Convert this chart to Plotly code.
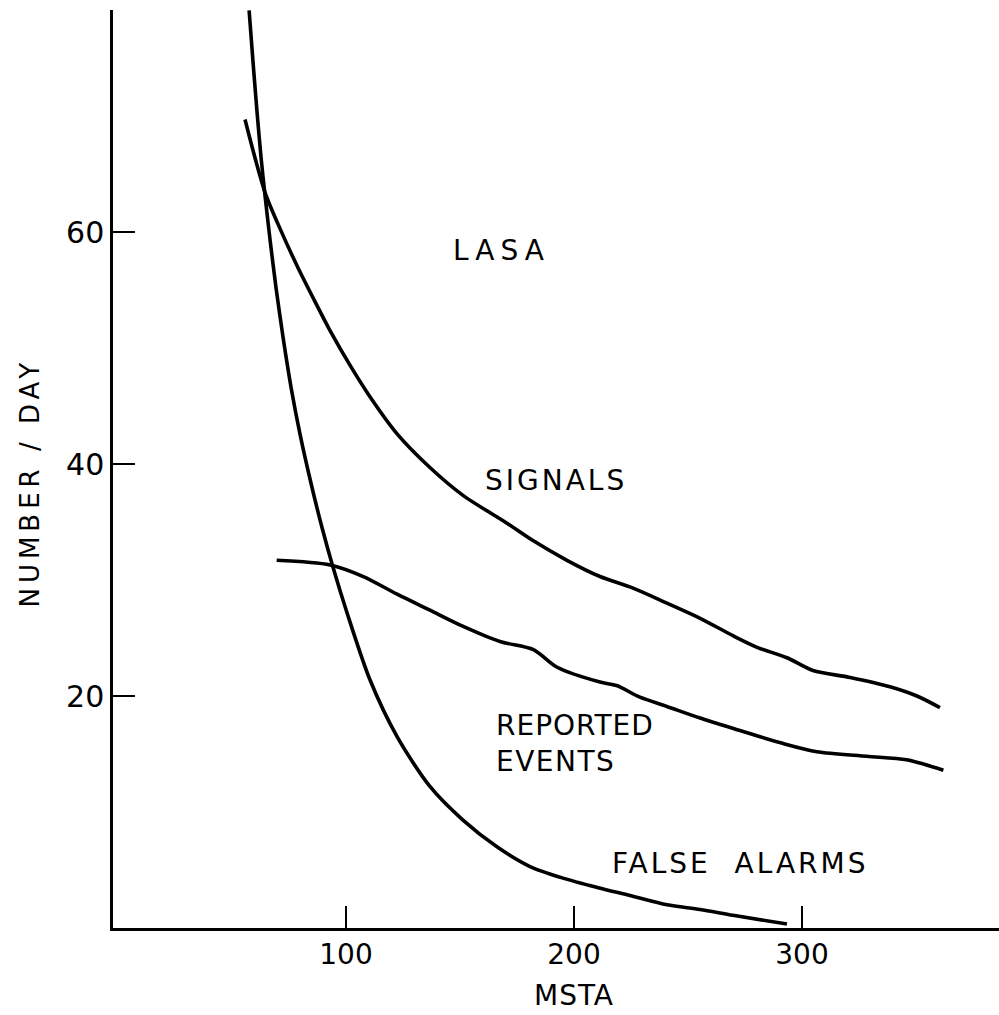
import plotly.graph_objects as go

# MSTA threshold vs. number per day for the LASA detector
signals_x = [55.7, 64.5, 71.5, 79.0, 86.4, 93.0, 101.8, 110.5, 122.4, 136.8, 151.3,
             170.6, 182.0, 196.9, 211.4, 225.9, 240.8, 255.3, 269.7, 280.3, 293.4,
             304.8, 321.1, 338.6, 350.4, 360.5]
signals_y = [69.7, 63.4, 60.1, 56.9, 54.0, 51.5, 48.5, 45.8, 42.6, 39.7, 37.3,
             34.9, 33.4, 31.7, 30.3, 29.3, 28.0, 26.7, 25.2, 24.2, 23.3,
             22.2, 21.6, 20.8, 20.0, 19.0]

reported_x = [69.6, 93.0, 107.6, 122.2, 136.8, 151.4, 167.5, 182.2, 192.4, 211.4,
              218.7, 228.9, 240.7, 255.3, 269.9, 291.8, 306.5, 328.4, 345.9, 362.0]
reported_y = [31.7, 31.3, 30.3, 28.8, 27.4, 26.0, 24.7, 24.0, 22.5, 21.2,
              20.9, 19.9, 19.1, 18.1, 17.2, 15.9, 15.2, 14.8, 14.5, 13.6]

false_x = [57.5, 59.2, 61.0, 62.7, 64.5, 66.7, 69.3, 72.4, 75.9, 79.8, 84.7,
           89.5, 94.3, 100.4, 110.5, 122.4, 136.8, 151.3, 166.2, 180.7, 195.2,
           210.1, 224.6, 240.8, 255.3, 269.7, 293.4]
false_y = [79.1, 74.7, 70.3, 66.5, 63.1, 59.3, 55.2, 50.9, 46.6, 42.6, 38.3,
           34.5, 31.1, 27.2, 21.4, 16.5, 12.2, 9.3, 7.0, 5.3, 4.3,
           3.5, 2.8, 2.0, 1.6, 1.1, 0.34]

x_ticks = [100, 200, 300]
y_ticks = [20, 40, 60]

FONT = "DejaVu Sans"
INK = "black"

fig = go.Figure()
for xs, ys in [(signals_x, signals_y), (reported_x, reported_y), (false_x, false_y)]:
    fig.add_trace(go.Scatter(
        x=xs, y=ys, mode="lines",
        line=dict(color=INK, width=3.6, shape="spline", smoothing=0.8),
        showlegend=False, hoverinfo="skip",
    ))


def spaced(text, px):
    return f'<span style="letter-spacing:{px}px">{text}</span>'


labels = [
    (168.4, 58.4, spaced("LASA", 6), "center"),
    (192.1, 38.6, spaced("SIGNALS", 3), "center"),
    (164.9, 15.9, spaced("REPORTED", 1) + "<br>" + spaced("EVENTS", 1.5), "left"),
    (273.2, 5.6, spaced("FALSE&nbsp;&nbsp;ALARMS", 3), "center"),
]
for x, y, t, al in labels:
    fig.add_annotation(
        x=x, y=y, text=t, showarrow=False,
        xanchor="left" if al == "left" else "center", yanchor="middle",
        align=al, font=dict(family=FONT, size=28, color=INK),
    )

# axis titles
fig.add_annotation(
    x=200, xref="x", y=0, yref="paper", yshift=-67,
    text=spaced("MSTA", 1), showarrow=False, xanchor="center", yanchor="middle",
    font=dict(family=FONT, size=28, color=INK),
)
fig.add_annotation(
    x=0, xref="paper", xshift=-83, y=38.4, yref="y",
    text=spaced("NUMBER / DAY", 5), textangle=-90, showarrow=False,
    xanchor="center", yanchor="middle",
    font=dict(family=FONT, size=26, color=INK),
)

fig.update_layout(
    width=999, height=1015,
    margin=dict(l=113, r=0, t=10, b=87),
    paper_bgcolor="white", plot_bgcolor="white",
    xaxis=dict(
        range=[-2.2, 386.4], showgrid=False, zeroline=False,
        showline=True, linecolor=INK, linewidth=2.5,
        ticks="inside", ticklen=22, tickwidth=2, tickcolor=INK,
        tickvals=x_ticks, ticktext=[str(v) for v in x_ticks],
        tickfont=dict(family=FONT, size=28, color=INK),
    ),
    yaxis=dict(
        range=[0, 79.14], showgrid=False, zeroline=False,
        showline=True, linecolor=INK, linewidth=2.5,
        ticks="inside", ticklen=22, tickwidth=2, tickcolor=INK,
        tickvals=y_ticks, ticktext=[str(v) for v in y_ticks],
        tickfont=dict(family=FONT, size=30, color=INK),
    ),
)

fig.write_html("out.html")
